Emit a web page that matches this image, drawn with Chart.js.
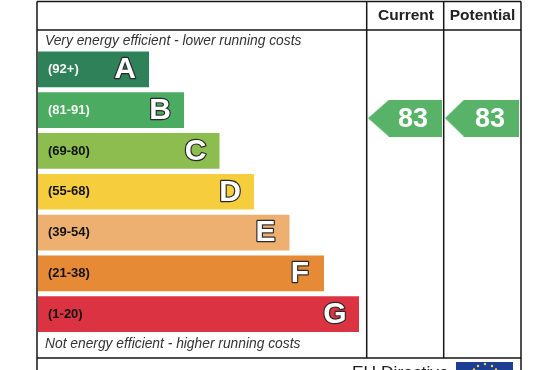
<!DOCTYPE html>
<html><head><meta charset="utf-8">
<style>html,body{margin:0;padding:0;background:#fff;overflow:hidden}canvas{display:block}</style>
<script src="https://cdn.jsdelivr.net/npm/chart.js@4"></script>
</head><body><canvas id="c" width="536" height="370"></canvas>
<script>
const bandRanges = ['(92+)','(81-91)','(69-80)','(55-68)','(39-54)','(21-38)','(1-20)'];
const bandLetters = ['A','B','C','D','E','F','G'];
const barLengths = [111,146,181.5,216,251.5,286,321];
const barColors = ['#2f8159','#4bab60','#8cbd4e','#f6cd3c','#eeb071','#e68a36','#dc3343'];
const rangeColors = ['#f4f4f4','#f4f4f4','#111111','#111111','#111111','#111111','#111111'];
const columnTitles = ['Current','Potential'];
const ratingValues = [83,83];
const ratingColumns = [367,444];
const ratingRow = [0.97,0.97];
const topNote = 'Very energy efficient - lower running costs';
const bottomNote = 'Not energy efficient - higher running costs';
const footerText = 'EU Directive';

function arrow(w,h,shoulder){
  const c=document.createElement('canvas');c.width=w;c.height=h;
  const g=c.getContext('2d');g.fillStyle='#58b368';
  g.beginPath();g.moveTo(0,h/2);g.lineTo(shoulder,0);g.lineTo(w,0);g.lineTo(w,h);g.lineTo(shoulder,h);g.closePath();g.fill();
  return c;
}
const arrows=[arrow(74,37,21),arrow(74,37,19)];

const frame={id:'frame',afterDatasetsDraw(ch){
  const g=ch.ctx,xs=ch.scales.x,ys=ch.scales.y,yr=ch.scales.y2;
  g.save();
  g.strokeStyle='#161616';g.lineWidth=1.5;
  const L=37,R=521,T=1.5,H=30,B=358;
  g.beginPath();
  g.moveTo(L,T);g.lineTo(R,T);
  g.moveTo(L,H);g.lineTo(R,H);
  g.moveTo(L,B);g.lineTo(R,B);
  g.moveTo(L,T);g.lineTo(L,370);
  g.moveTo(R,T);g.lineTo(R,370);
  g.moveTo(366.7,T);g.lineTo(366.7,B);
  g.moveTo(443.7,T);g.lineTo(443.7,B);
  g.stroke();

  g.textBaseline='middle';
  g.textAlign='center';g.fillStyle='#222';g.font='bold 15.5px "Liberation Sans"';
  g.fillText(columnTitles[0],406,16);
  g.fillText(columnTitles[1],482.5,16);

  g.textAlign='left';g.fillStyle='#333';g.font='italic 13.8px "Liberation Sans"';
  g.fillText(topNote,45,41.5);
  g.fillText(bottomNote,45,344);

  g.font='bold 30px "Liberation Sans"';g.textAlign='center';g.lineJoin='round';
  bandLetters.forEach((l,i)=>{
    const x=xs.getPixelForValue(barLengths[i])-24,y=ys.getPixelForValue(i)+0.5;
    g.lineWidth=2.4;g.strokeStyle='#2a2a2a';g.strokeText(l,x,y);
    g.fillStyle='#fff';g.fillText(l,x,y);
  });

  g.font='bold 27px "Liberation Sans"';g.fillStyle='#fff';
  ratingValues.forEach((v,i)=>{
    g.fillText(String(v),xs.getPixelForValue(ratingColumns[i])+8,yr.getPixelForValue(ratingRow[i])+1);
  });

  g.textAlign='left';g.fillStyle='#222';g.font='17.4px "Liberation Sans"';g.textBaseline='alphabetic';
  g.fillText(footerText,352,378);
  g.fillStyle='#1c3f94';g.fillRect(456,362,57,8);
  g.fillStyle='#f5d63a';
  [[485,364],[478,366],[492,366],[474,369.5],[496,369.5]].forEach(p=>{g.beginPath();g.arc(p[0],p[1],1.2,0,7);g.fill();});
  g.restore();
}};

new Chart(document.getElementById('c'),{
  type:'bar',
  data:{labels:bandRanges,datasets:[
    {type:'bar',data:barLengths,backgroundColor:barColors,categoryPercentage:1,barPercentage:0.875,grouped:false,xAxisID:'x',yAxisID:'y',order:2},
    {type:'scatter',data:ratingColumns.map((x,i)=>({x:x,y:ratingRow[i]})),xAxisID:'x',yAxisID:'y2',pointStyle:arrows,pointRadius:10,order:1}
  ]},
  options:{
    indexAxis:'y',responsive:false,animation:false,
    layout:{padding:{left:38,top:49,right:15,bottom:35.5}},
    plugins:{legend:{display:false},tooltip:{enabled:false},title:{display:false}},
    scales:{
      x:{type:'linear',min:0,max:483,display:false},
      y:{type:'category',grid:{display:false},border:{display:false},afterFit(s){s.width=0;},
         ticks:{z:1,mirror:true,padding:10,color:c=>rangeColors[c.index],font:{family:'"Liberation Sans"',weight:'bold',size:13}}},
      y2:{type:'linear',axis:'y',min:-0.5,max:6.5,reverse:true,display:false}
    }
  },
  plugins:[frame]
});
</script></body></html>
